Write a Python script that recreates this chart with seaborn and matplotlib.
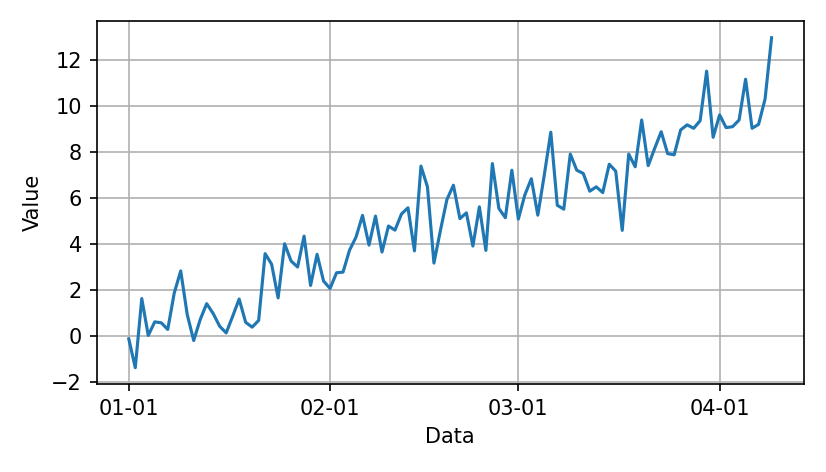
import matplotlib
matplotlib.use("Agg")
import matplotlib.pyplot as plt
import matplotlib.dates as mdates
import seaborn as sns
import pandas as pd

# daily values, 2020-01-01 .. 2020-04-09
dates = pd.date_range("2020-01-01", periods=100, freq="D")
values = [
    -0.12, -1.37, 1.63, 0.03, 0.62, 0.58, 0.29, 1.87, 2.83, 0.94,
    -0.19, 0.72, 1.41, 0.98, 0.43, 0.14, 0.86, 1.61, 0.60, 0.39,
    0.68, 3.58, 3.12, 1.66, 4.01, 3.26, 3.00, 4.34, 2.20, 3.55,
    2.39, 2.07, 2.75, 2.78, 3.73, 4.30, 5.24, 3.95, 5.21, 3.65,
    4.78, 4.60, 5.30, 5.57, 3.70, 7.38, 6.48, 3.17, 4.59, 5.93,
    6.55, 5.10, 5.35, 3.91, 5.61, 3.72, 7.49, 5.54, 5.14, 7.20,
    5.08, 6.13, 6.83, 5.25, 7.00, 8.85, 5.68, 5.51, 7.90, 7.20,
    7.06, 6.29, 6.48, 6.23, 7.46, 7.16, 4.59, 7.90, 7.35, 9.38,
    7.40, 8.15, 8.87, 7.92, 7.87, 8.95, 9.17, 9.02, 9.35, 11.50,
    8.63, 9.60, 9.05, 9.09, 9.38, 11.15, 9.02, 9.19, 10.29, 12.95,
]

df = pd.DataFrame({"Data": dates, "Value": values})

fig, ax = plt.subplots(figsize=(826 / 150, 472 / 150), dpi=150)
sns.lineplot(data=df, x="Data", y="Value", ax=ax, color="#1f77b4", linewidth=1.5)

ax.xaxis.set_major_locator(mdates.MonthLocator())
ax.xaxis.set_major_formatter(mdates.DateFormatter("%m-%d"))
ax.grid(True, color="#b0b0b0", linewidth=0.8)
ax.set_axisbelow(True)

fig.subplots_adjust(left=0.117, right=0.973, top=0.955, bottom=0.186)
fig.savefig("out.png", dpi=150)
